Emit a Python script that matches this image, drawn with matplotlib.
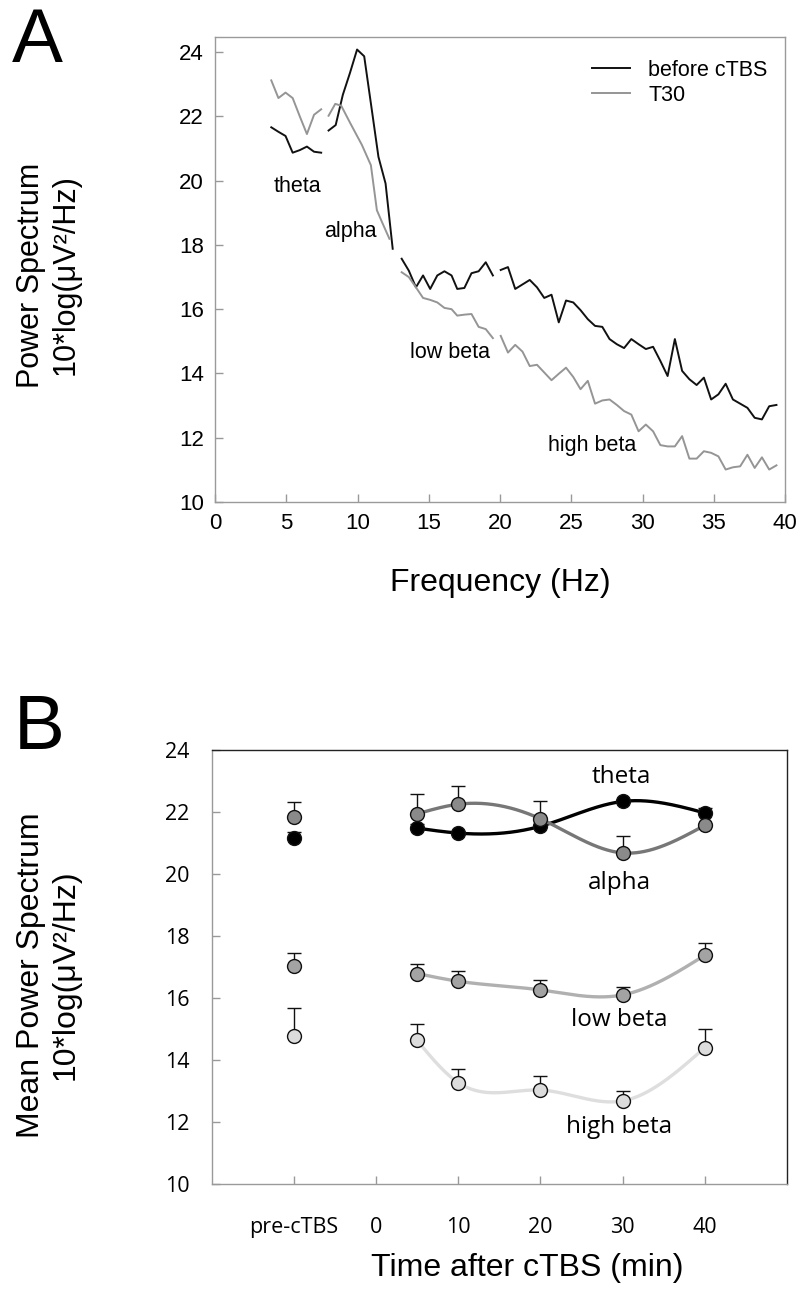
import numpy as np
import matplotlib
matplotlib.use("Agg")
import matplotlib.pyplot as plt

# ---- panel A: spectrum before cTBS / T30 ----
theta_f = [3.95, 4.45, 4.95, 5.45, 5.95, 6.45, 6.95, 7.45]
theta_pre = [21.66, 21.52, 21.39, 20.87, 20.95, 21.06, 20.90, 20.87]
theta_t30 = [23.12, 22.57, 22.74, 22.57, 22.00, 21.45, 22.05, 22.22]

alpha_f = [7.97, 8.47, 8.97, 9.47, 9.97, 10.47, 10.97, 11.47, 11.97, 12.47]
alpha_pre = [21.56, 21.73, 22.67, 23.35, 24.08, 23.87, 22.31, 20.74, 19.91, 17.88]
alpha_f_t30 = [7.97, 8.44, 8.86, 9.49, 10.31, 10.94, 11.36, 11.72, 12.24]
alpha_t30 = [22.02, 22.39, 22.33, 21.79, 21.11, 20.48, 19.08, 18.71, 18.19]

lowb_f = [13.1, 13.6, 14.1, 14.6, 15.1, 15.6, 16.1, 16.6, 17.0, 17.5, 18.0, 18.5, 19.0, 19.5]
lowb_pre = [17.57, 17.20, 16.68, 17.05, 16.63, 17.05, 17.18, 17.05, 16.63, 16.66,
            17.12, 17.18, 17.46, 17.05]
lowb_t30 = [17.15, 17.00, 16.68, 16.35, 16.29, 16.21, 16.04, 16.00, 15.80, 15.83,
            15.85, 15.45, 15.38, 15.10]

highb_f = np.linspace(20.05, 39.4, 39)
highb_pre = [17.22, 17.31, 16.63, 16.77, 16.91, 16.68, 16.35, 16.45, 15.59, 16.27,
             16.21, 15.97, 15.69, 15.48, 15.45, 15.07, 14.91, 14.79, 15.07, 14.91,
             14.76, 14.83, 14.39, 13.92, 15.07, 14.08, 13.82, 13.64, 13.87, 13.19,
             13.35, 13.68, 13.19, 13.06, 12.93, 12.62, 12.57, 12.98, 13.02]
highb_t30 = [15.17, 14.65, 14.89, 14.68, 14.23, 14.27, 14.03, 13.79, 13.99, 14.18,
             13.89, 13.51, 13.77, 13.06, 13.16, 13.19, 13.02, 12.83, 12.72, 12.20,
             12.41, 12.20, 11.77, 11.73, 11.73, 12.05, 11.35, 11.35, 11.58, 11.53,
             11.42, 11.01, 11.08, 11.11, 11.47, 11.06, 11.39, 11.01, 11.14]

# ---- panel B: mean power over time ----
pre_x = -10
times = [5, 10, 20, 30, 40]
b_ticks = [-10, 0, 10, 20, 30, 40]
b_ticklabels = ["pre-cTBS", "0", "10", "20", "30", "40"]

theta_b_pre, theta_b_pre_err = 21.16, 0.20
theta_b = [21.48, 21.32, 21.54, 22.34, 21.97]
theta_b_err = [0.12, 0.03, 0.03, 0.03, 0.16]

alpha_b_pre, alpha_b_pre_err = 21.83, 0.49
alpha_b = [21.94, 22.25, 21.78, 20.68, 21.57]
alpha_b_err = [0.64, 0.59, 0.56, 0.56, 0.04]

lowb_b_pre, lowb_b_pre_err = 17.04, 0.40
lowb_b = [16.79, 16.54, 16.26, 16.10, 17.38]
lowb_b_err = [0.30, 0.34, 0.32, 0.24, 0.39]

highb_b_pre, highb_b_pre_err = 14.79, 0.88
highb_b = [14.63, 13.27, 13.03, 12.68, 14.40]
highb_b_err = [0.54, 0.45, 0.46, 0.32, 0.59]


def smooth(x, y, n=300):
    # natural cubic spline through the points, just for drawing the curve
    x = np.asarray(x, float)
    y = np.asarray(y, float)
    h = np.diff(x)
    m = len(x)
    A = np.zeros((m, m))
    b = np.zeros(m)
    A[0, 0] = A[-1, -1] = 1
    for i in range(1, m - 1):
        A[i, i - 1] = h[i - 1]
        A[i, i] = 2 * (h[i - 1] + h[i])
        A[i, i + 1] = h[i]
        b[i] = 3 * ((y[i + 1] - y[i]) / h[i] - (y[i] - y[i - 1]) / h[i - 1])
    c = np.linalg.solve(A, b)
    xs = np.linspace(x[0], x[-1], n)
    k = np.clip(np.searchsorted(x, xs) - 1, 0, m - 2)
    dx = xs - x[k]
    bb = (y[k + 1] - y[k]) / h[k] - h[k] * (2 * c[k] + c[k + 1]) / 3
    dd = (c[k + 1] - c[k]) / (3 * h[k])
    return xs, y[k] + bb * dx + c[k] * dx ** 2 + dd * dx ** 3


W, H = 805, 1294
ARIAL = "Liberation Sans"
MYRIAD = "Open Sans"
fig = plt.figure(figsize=(W / 100, H / 100), dpi=100)

# ---------------- A ----------------
axA = fig.add_axes([215 / W, 1 - 502 / H, 570 / W, 465 / H])
black, gray = "#111111", "#959595"
for f, v in [(theta_f, theta_pre), (alpha_f, alpha_pre), (lowb_f, lowb_pre), (highb_f, highb_pre)]:
    axA.plot(f, v, color=black, lw=1.4)
for f, v in [(theta_f, theta_t30), (alpha_f_t30, alpha_t30), (lowb_f, lowb_t30), (highb_f, highb_t30)]:
    axA.plot(f, v, color=gray, lw=1.4)
axA.plot([], [], color=black, lw=1.4, label="before cTBS")
axA.plot([], [], color=gray, lw=1.4, label="T30")

axA.set_xlim(0, 40)
axA.set_ylim(10, 24.47)
axA.set_xticks(range(0, 41, 5))
axA.set_yticks(range(10, 25, 2))
axA.tick_params(direction="in", length=6, width=1, color="#999999", labelsize=16, pad=8)
for lab in axA.get_xticklabels() + axA.get_yticklabels():
    lab.set_fontfamily(ARIAL)
for s in axA.spines.values():
    s.set_color("#9a9a9a")
    s.set_linewidth(1)

tA = dict(fontsize=15.5, family=ARIAL, ha="center", va="center")
axA.text(5.8, 19.82, "theta", **tA)
axA.text(9.47, 18.42, "alpha", **tA)
axA.text(16.46, 14.64, "low beta", **tA)
axA.text(26.48, 11.76, "high beta", **tA)

leg = axA.legend(loc="upper right", bbox_to_anchor=(0.985, 0.97), frameon=False,
                 handlelength=1.75, handletextpad=0.85, labelspacing=0.2,
                 borderaxespad=0, prop={"family": ARIAL, "size": 15.5})

fig.text(500 / W, 1 - 583 / H, "Frequency (Hz)", ha="center", va="center",
         fontsize=23, family=ARIAL)
fig.text(48 / W, 1 - 275 / H, "Power Spectrum\n10*log(μV²/Hz)", rotation=90,
         ha="center", va="center", fontsize=22, family=ARIAL, linespacing=1.2)
fig.text(12 / W, 1 - 62 / H, "A", fontsize=55, family=ARIAL, va="baseline")

# ---------------- B ----------------
axB = fig.add_axes([211.7 / W, 1 - 1184 / H, 575.3 / W, 434 / H])

bands = [
    (theta_b_pre, theta_b_pre_err, theta_b, theta_b_err, "#000000", "#000000", 2.4),
    (alpha_b_pre, alpha_b_pre_err, alpha_b, alpha_b_err, "#777777", "#8a8a8a", 2.4),
    (lowb_b_pre, lowb_b_pre_err, lowb_b, lowb_b_err, "#b0b0b0", "#a3a3a3", 2.4),
    (highb_b_pre, highb_b_pre_err, highb_b, highb_b_err, "#dedede", "#dcdcdc", 2.4),
]
z = 2
for pre, pre_err, vals, errs, lc, fc, lw in bands:
    xs, ys = smooth(times, vals)
    axB.plot(xs, ys, color=lc, lw=lw, zorder=z, solid_capstyle="round")
    allx = [pre_x] + times
    ally = [pre] + vals
    alle = [pre_err] + errs
    axB.errorbar(allx, ally, yerr=[np.zeros(len(alle)), alle], fmt="none",
                 ecolor="#111111", elinewidth=1, capsize=5, capthick=1, zorder=z + 0.5)
    axB.plot(allx, ally, "o", ms=10, mfc=fc, mec="#111111", mew=1, zorder=z + 1)
    z += 2

axB.set_xlim(-20, 50)
axB.set_ylim(10, 24)
axB.set_xticks(b_ticks)
axB.set_xticklabels(b_ticklabels)
axB.set_yticks(range(10, 25, 2))
axB.tick_params(direction="in", length=6, width=1, color="#999999", labelsize=15.5)
axB.tick_params(axis="x", pad=24)
axB.tick_params(axis="y", pad=16)
for lab in axB.get_xticklabels() + axB.get_yticklabels():
    lab.set_fontfamily(MYRIAD)
for side in ["left", "bottom"]:
    axB.spines[side].set_color("#9a9a9a")
for side in ["top", "right"]:
    axB.spines[side].set_color("#222222")
for s in axB.spines.values():
    s.set_linewidth(1)

tB = dict(fontsize=17.5, family=MYRIAD, ha="center", va="center")
axB.text(29.8, 23.14, "theta", **tB)
axB.text(29.6, 19.72, "alpha", **tB)
axB.text(29.6, 15.30, "low beta", **tB)
axB.text(29.6, 11.83, "high beta", **tB)

fig.text(527 / W, 1 - 1268 / H, "Time after cTBS (min)", ha="center", va="center",
         fontsize=23, family=ARIAL)
fig.text(48 / W, 1 - 975 / H, "Mean Power Spectrum\n10*log(μV²/Hz)", rotation=90,
         ha="center", va="center", fontsize=23, family=ARIAL, linespacing=1.2)
fig.text(14 / W, 1 - 749 / H, "B", fontsize=55, family=ARIAL, va="baseline")

fig.savefig("out.png", dpi=100)
